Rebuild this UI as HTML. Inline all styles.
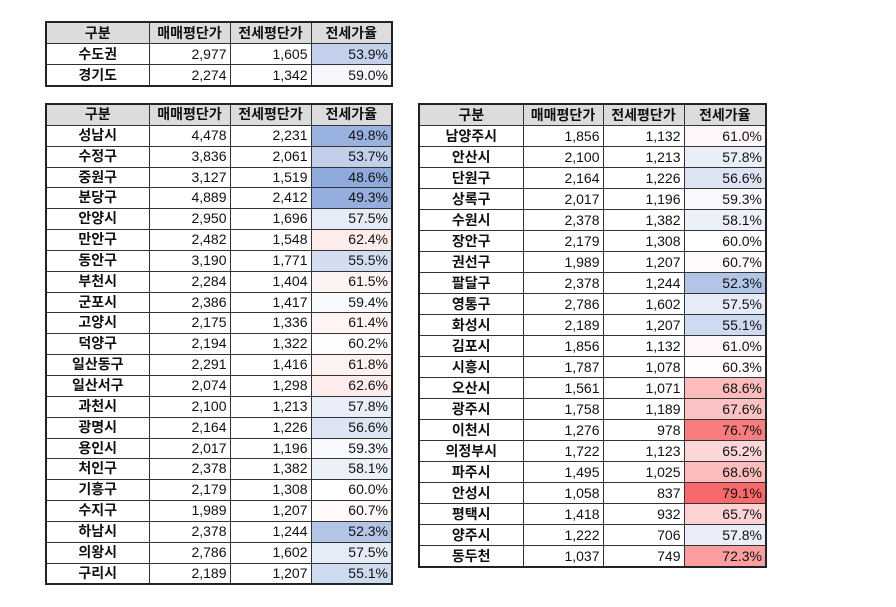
<!DOCTYPE html>
<html><head><meta charset="utf-8"><style>
body{margin:0;width:896px;height:607px;background:#fff;position:relative;font-family:"Liberation Sans","Noto Sans CJK KR","NanumGothic",sans-serif;}
table{position:absolute;border-collapse:collapse;border:2px solid #222;table-layout:fixed;font-size:14px;color:#111;}
td{border:1px solid #333;padding:0 3px;height:20px;line-height:20px;text-align:right;white-space:nowrap;overflow:hidden;}
td:first-child{text-align:center;font-weight:bold;}
tr.h td{background:#dcdcdc;text-align:center;font-weight:bold;}
#t1{left:45px;top:21px;width:347px;}
#t2{left:45px;top:103px;width:347px;}
#t3{left:418px;top:103px;width:347px;}
#t2 td{height:19.85px;line-height:19.85px;}
</style></head><body>
<table id="t1"><colgroup><col style="width:103px"><col style="width:81px"><col style="width:81px"><col style="width:81px"></colgroup>
<tr class="h"><td>구분</td><td>매매평단가</td><td>전세평단가</td><td>전세가율</td></tr>
<tr><td>수도권</td><td>2,977</td><td>1,605</td><td style="background:rgb(195,209,236)">53.9%</td></tr>
<tr><td>경기도</td><td>2,274</td><td>1,342</td><td style="background:rgb(245,247,252)">59.0%</td></tr>
</table>
<table id="t2"><colgroup><col style="width:103px"><col style="width:81px"><col style="width:81px"><col style="width:81px"></colgroup>
<tr class="h"><td>구분</td><td>매매평단가</td><td>전세평단가</td><td>전세가율</td></tr>
<tr><td>성남시</td><td>4,478</td><td>2,231</td><td style="background:rgb(154,178,223)">49.8%</td></tr>
<tr><td>수정구</td><td>3,836</td><td>2,061</td><td style="background:rgb(193,207,235)">53.7%</td></tr>
<tr><td>중원구</td><td>3,127</td><td>1,519</td><td style="background:rgb(142,169,219)">48.6%</td></tr>
<tr><td>분당구</td><td>4,889</td><td>2,412</td><td style="background:rgb(149,174,221)">49.3%</td></tr>
<tr><td>안양시</td><td>2,950</td><td>1,696</td><td style="background:rgb(230,236,247)">57.5%</td></tr>
<tr><td>만안구</td><td>2,482</td><td>1,548</td><td style="background:rgb(254,236,236)">62.4%</td></tr>
<tr><td>동안구</td><td>3,190</td><td>1,771</td><td style="background:rgb(210,221,241)">55.5%</td></tr>
<tr><td>부천시</td><td>2,284</td><td>1,404</td><td style="background:rgb(254,243,243)">61.5%</td></tr>
<tr><td>군포시</td><td>2,386</td><td>1,417</td><td style="background:rgb(249,250,253)">59.4%</td></tr>
<tr><td>고양시</td><td>2,175</td><td>1,336</td><td style="background:rgb(254,244,244)">61.4%</td></tr>
<tr><td>덕양구</td><td>2,194</td><td>1,322</td><td style="background:rgb(255,253,253)">60.2%</td></tr>
<tr><td>일산동구</td><td>2,291</td><td>1,416</td><td style="background:rgb(254,241,241)">61.8%</td></tr>
<tr><td>일산서구</td><td>2,074</td><td>1,298</td><td style="background:rgb(254,235,235)">62.6%</td></tr>
<tr><td>과천시</td><td>2,100</td><td>1,213</td><td style="background:rgb(233,238,248)">57.8%</td></tr>
<tr><td>광명시</td><td>2,164</td><td>1,226</td><td style="background:rgb(221,229,244)">56.6%</td></tr>
<tr><td>용인시</td><td>2,017</td><td>1,196</td><td style="background:rgb(248,250,253)">59.3%</td></tr>
<tr><td>처인구</td><td>2,378</td><td>1,382</td><td style="background:rgb(236,241,249)">58.1%</td></tr>
<tr><td>기흥구</td><td>2,179</td><td>1,308</td><td>60.0%</td></tr>
<tr><td>수지구</td><td>1,989</td><td>1,207</td><td style="background:rgb(255,249,250)">60.7%</td></tr>
<tr><td>하남시</td><td>2,378</td><td>1,244</td><td style="background:rgb(179,197,231)">52.3%</td></tr>
<tr><td>의왕시</td><td>2,786</td><td>1,602</td><td style="background:rgb(230,236,247)">57.5%</td></tr>
<tr><td>구리시</td><td>2,189</td><td>1,207</td><td style="background:rgb(206,218,240)">55.1%</td></tr>
</table>
<table id="t3"><colgroup><col style="width:104px"><col style="width:80px"><col style="width:81px"><col style="width:82px"></colgroup>
<tr class="h"><td>구분</td><td>매매평단가</td><td>전세평단가</td><td>전세가율</td></tr>
<tr><td>남양주시</td><td>1,856</td><td>1,132</td><td style="background:rgb(255,247,247)">61.0%</td></tr>
<tr><td>안산시</td><td>2,100</td><td>1,213</td><td style="background:rgb(233,238,248)">57.8%</td></tr>
<tr><td>단원구</td><td>2,164</td><td>1,226</td><td style="background:rgb(221,229,244)">56.6%</td></tr>
<tr><td>상록구</td><td>2,017</td><td>1,196</td><td style="background:rgb(248,250,253)">59.3%</td></tr>
<tr><td>수원시</td><td>2,378</td><td>1,382</td><td style="background:rgb(236,241,249)">58.1%</td></tr>
<tr><td>장안구</td><td>2,179</td><td>1,308</td><td>60.0%</td></tr>
<tr><td>권선구</td><td>1,989</td><td>1,207</td><td style="background:rgb(255,249,250)">60.7%</td></tr>
<tr><td>팔달구</td><td>2,378</td><td>1,244</td><td style="background:rgb(179,197,231)">52.3%</td></tr>
<tr><td>영통구</td><td>2,786</td><td>1,602</td><td style="background:rgb(230,236,247)">57.5%</td></tr>
<tr><td>화성시</td><td>2,189</td><td>1,207</td><td style="background:rgb(206,218,240)">55.1%</td></tr>
<tr><td>김포시</td><td>1,856</td><td>1,132</td><td style="background:rgb(255,247,247)">61.0%</td></tr>
<tr><td>시흥시</td><td>1,787</td><td>1,078</td><td style="background:rgb(255,253,253)">60.3%</td></tr>
<tr><td>오산시</td><td>1,561</td><td>1,071</td><td style="background:rgb(252,188,188)">68.6%</td></tr>
<tr><td>광주시</td><td>1,758</td><td>1,189</td><td style="background:rgb(252,195,196)">67.6%</td></tr>
<tr><td>이천시</td><td>1,276</td><td>978</td><td style="background:rgb(249,124,126)">76.7%</td></tr>
<tr><td>의정부시</td><td>1,722</td><td>1,123</td><td style="background:rgb(253,214,215)">65.2%</td></tr>
<tr><td>파주시</td><td>1,495</td><td>1,025</td><td style="background:rgb(252,188,188)">68.6%</td></tr>
<tr><td>안성시</td><td>1,058</td><td>837</td><td style="background:rgb(248,105,107)">79.1%</td></tr>
<tr><td>평택시</td><td>1,418</td><td>932</td><td style="background:rgb(253,210,211)">65.7%</td></tr>
<tr><td>양주시</td><td>1,222</td><td>706</td><td style="background:rgb(233,238,248)">57.8%</td></tr>
<tr><td>동두천</td><td>1,037</td><td>749</td><td style="background:rgb(250,158,160)">72.3%</td></tr>
</table>
</body></html>
